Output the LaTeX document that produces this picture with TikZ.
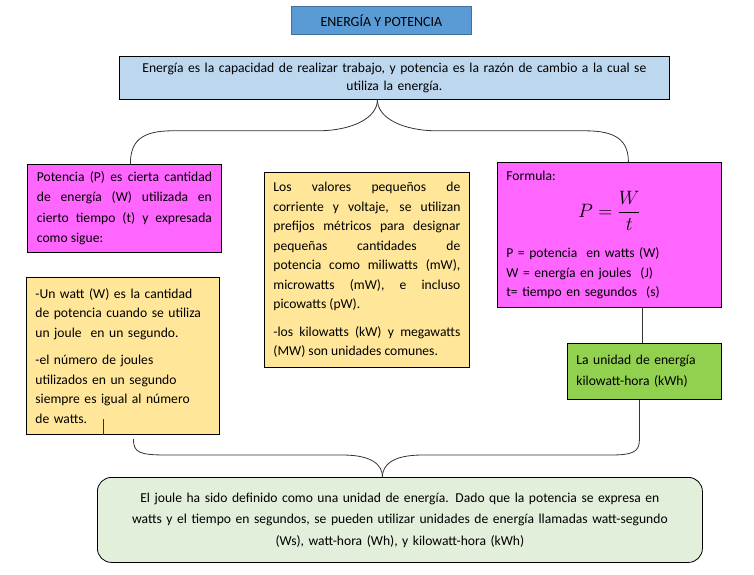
\documentclass[tikz,border=0pt]{standalone}
\usepackage{amsmath}
\usepackage{graphicx}
\usepackage{fontspec}
\setmainfont{Carlito}
\usepackage{tikz}
\usetikzlibrary{positioning,calc}

\definecolor{titlefill}{HTML}{5B9BD5}
\definecolor{titledraw}{HTML}{41719C}
\definecolor{ideafill}{HTML}{BDD7EE}
\definecolor{magfill}{HTML}{FF66FF}
\definecolor{notefill}{HTML}{FFE699}
\definecolor{unitfill}{HTML}{92D050}
\definecolor{joulefill}{HTML}{E2EFDA}

\begin{document}
\begin{tikzpicture}[
  x=1pt, y=-1pt,
  every node/.style={font=\fontsize{13.6}{19.5}\selectfont},
  box/.style={rectangle, draw=black, line width=0.8pt, anchor=north west,
              inner xsep=9pt, inner ysep=3pt},
  brace/.style={draw=black!80, line width=0.8pt}
]
  \useasboundingbox (0,0) rectangle (754,574);

  \node[box, draw=titledraw, fill=titlefill, minimum width=180pt, minimum height=28pt,
        inner xsep=0pt, font=\fontsize{14}{16}\selectfont] (title) at (291,6) {ENERGÍA Y POTENCIA};
  \node[box, fill=ideafill, text width=532pt, minimum height=43pt, align=center,
        font=\fontsize{13.6}{18}\selectfont] (energia) at (119,56)
    {Energía es la capacidad de realizar trabajo, y potencia es la razón de cambio a la cual se\\
     utiliza la energía.};

  \node[box, fill=magfill, text width=175pt, inner xsep=9.5pt, minimum height=88pt,
        align=justify, font=\fontsize{13.6}{20.5}\selectfont] (potencia) at (27,164)
    {Potencia (P) es cierta cantidad\linebreak de energía (W) utilizada en\linebreak
     cierto tiempo (t) y expresada\linebreak como sigue:};
  \node[box, fill=notefill, text width=175pt, minimum height=157pt, align=left] (watt) at (26,277)
    {-Un watt (W) es la cantidad\\ de potencia cuando se utiliza\\ un joule~ en un segundo.\\[8pt]
     -el número de joules\\ utilizados en un segundo\\ siempre es igual al número\\ de watts.};
  \node[box, fill=notefill, text width=187pt, minimum height=195pt, align=justify] (prefijos) at (264,172)
    {Los valores pequeños de\linebreak corriente y voltaje, se utilizan\linebreak
     prefijos métricos para designar\linebreak pequeñas cantidades de\linebreak
     potencia como miliwatts (mW),\linebreak microwatts (mW), e incluso\linebreak
     picowatts (pW).\\[8pt]
     -los kilowatts (kW) y megawatts\linebreak (MW) son unidades comunes.};
  \node[box, fill=magfill, text width=206pt, minimum height=145pt, align=left] (formula) at (497,162)
    {Formula:\\[10pt]
     \leavevmode\hbox to\hsize{\hfil\fontsize{17.28}{22}\selectfont\scalebox{1.12}{$P=\dfrac{W}{t}$}\hfil}\\[16pt]
     P = potencia~ en watts (W)\\ W = energía en joules~ (J)\\ t= tiempo en segundos~ (s)};
  \node[box, fill=unitfill, text width=136pt, minimum height=56pt, align=left,
        font=\fontsize{13.6}{21}\selectfont] (kwh) at (567,343)
    {La unidad de energía\\ kilowatt-hora (kWh)};
  \node[box, fill=joulefill, rounded corners=14pt, text width=587pt, minimum height=85pt,
        align=center, font=\fontsize{13.6}{21.5}\selectfont] (joule) at (97,477)
    {El joule ha sido definido como una unidad de energía. Dado que la potencia se expresa en\\
     watts y el tiempo en segundos, se pueden utilizar unidades de energía llamadas watt-segundo\\
     (Ws), watt-hora (Wh), y kilowatt-hora (kWh)};

  % upper brace
  \coordinate (ttip) at ([xshift=-17pt]energia.south);
  \draw[brace] (ttip) .. controls +(0,18) and +(35,0) .. ($(ttip)+(-60,31)$)
    -- ($(ttip)+(-205,31)$) .. controls +(-32,0) and +(0,-22) .. ([xshift=6pt]potencia.north);
  \draw[brace] (ttip) .. controls +(0,18) and +(-35,0) .. ($(ttip)+(60,31)$)
    -- ($(ttip)+(208,31)$) .. controls +(30,0) and +(0,-22) .. ([xshift=19pt]formula.north);

  \draw[brace] ([xshift=-2pt]kwh.north) -- ([xshift=-2pt]kwh.north |- formula.south);
  \draw[brace] ([xshift=-19.5pt]watt.south) -- ++(0,-16);

  % lower brace
  \coordinate (btip) at ([xshift=-17.5pt]joule.north);
  \draw[brace] ([xshift=10.5pt,yshift=-4pt]watt.south) .. controls +(0,14) and +(-28,0) .. ($(btip)+(-215,-22)$)
    -- ($(btip)+(-40,-22)$) .. controls +(30,0) and +(0,-12) .. (btip);
  \draw[brace] (btip) .. controls +(0,-12) and +(-30,0) .. ($(btip)+(40,-22)$)
    -- ($(btip)+(228,-22)$) .. controls +(22,0) and +(0,12) .. ($(btip)+(257,-37)$)
    -- ([xshift=-5pt]kwh.south);
\end{tikzpicture}
\end{document}
